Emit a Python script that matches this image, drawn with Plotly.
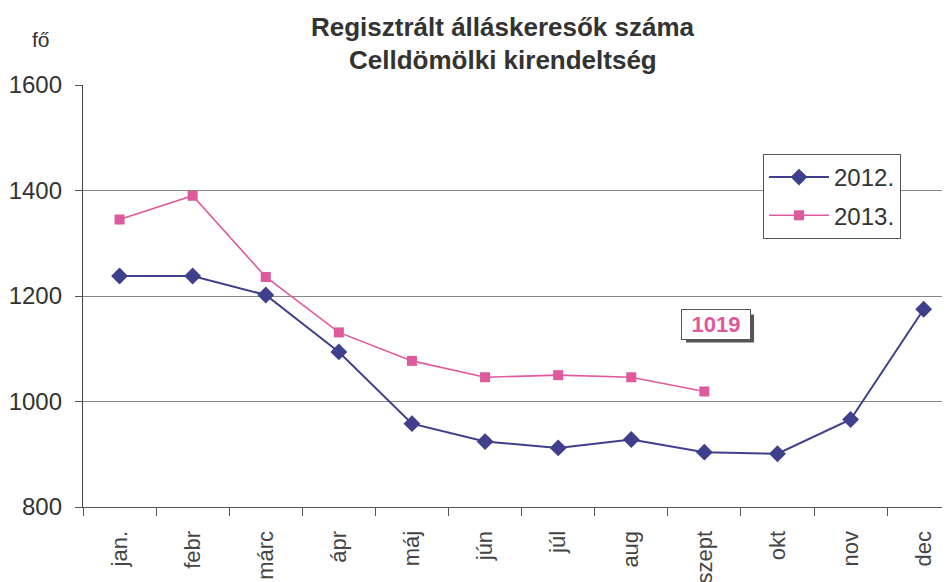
import plotly.graph_objects as go

months = ["jan.", "febr", "márc", "ápr", "máj", "jún", "júl", "aug", "szept", "okt", "nov", "dec"]
y2012 = [1238, 1238, 1202, 1094, 958, 924, 912, 928, 904, 901, 966, 1175]
months_2013 = months[:9]
y2013 = [1345, 1390, 1236, 1131, 1077, 1046, 1050, 1046, 1019]
yticks = [800, 1000, 1200, 1400, 1600]
callout_value = 1019

navy = "#3F3F8C"
pink = "#DF5A9C"
font = "Liberation Sans, Arial, sans-serif"

# page offset (browser body margin) compensation
OFF = 8
L, T, R, B = 83, 85, 950, 507   # plot area in the screenshot
PW, PH = R - L, B - T

def px(xpix):
    return (xpix - L) / PW

def py(ypix):
    return (B - ypix) / PH

fig = go.Figure()
fig.add_trace(go.Scatter(
    x=months, y=y2012, name="2012.", mode="lines+markers",
    line=dict(color=navy, width=2),
    marker=dict(symbol="diamond", size=13, color=navy),
    legendgroup="a",
))
fig.add_trace(go.Scatter(
    x=months_2013, y=y2013, name="2013.", mode="lines+markers",
    line=dict(color=pink, width=1.6),
    marker=dict(symbol="square", size=10, color=pink),
    legendgroup="b",
))

fig.update_layout(
    width=950 - OFF, height=582 - OFF,
    margin=dict(l=L - OFF, r=0, t=T - OFF, b=582 - B, autoexpand=False),
    paper_bgcolor="white", plot_bgcolor="white",
    font=dict(family=font, color="#333333"),
    showlegend=True,
    legend=dict(
        x=px(763), y=py(154), xanchor="left", yanchor="top",
        bgcolor="white", bordercolor="#555555", borderwidth=1,
        font=dict(size=24, color="#333333"),
        traceorder="grouped", tracegroupgap=4,
        itemwidth=60,
    ),
)

fig.update_xaxes(
    type="category", categoryorder="array", categoryarray=months,
    range=[-0.5, 11.36],
    tickson="boundaries", ticks="outside", ticklen=8, tickcolor="#555555",
    tickangle=-90, tickfont=dict(size=22, color="#444444"),
    ticklabelstandoff=14, automargin=False,
    showline=True, linecolor="#555555", linewidth=1.2,
    showgrid=False, zeroline=False,
)
fig.update_yaxes(
    range=[800, 1600], tickvals=yticks,
    ticks="outside", ticklen=7, tickcolor="#555555",
    tickfont=dict(size=24, color="#333333"),
    ticklabelstandoff=8, automargin=False,
    showline=True, linecolor="#444444", linewidth=1.3,
    showgrid=True, gridcolor="#888888", gridwidth=1,
    zeroline=False,
)

fig.add_annotation(xref="paper", yref="paper", x=px(503), y=py(27),
                   text="<b>Regisztrált álláskeresők száma</b>", showarrow=False,
                   font=dict(size=26, color="#333333"), xanchor="center", yanchor="middle")
fig.add_annotation(xref="paper", yref="paper", x=px(503), y=py(60),
                   text="<b>Celldömölki kirendeltség</b>", showarrow=False,
                   font=dict(size=26, color="#333333"), xanchor="center", yanchor="middle")
fig.add_annotation(xref="paper", yref="paper", x=px(41), y=py(40),
                   text="fő", showarrow=False,
                   font=dict(size=21, color="#333333"), xanchor="center", yanchor="middle")

# callout box with shadow
cx, cy = 8.16, 1146
fig.add_shape(type="rect", xref="x", yref="y", xsizemode="pixel", ysizemode="pixel",
              xanchor=cx, yanchor=cy, x0=-30, x1=38, y0=-18, y1=10,
              fillcolor="#555555", line=dict(width=0), layer="above")
fig.add_annotation(
    x=cx, y=cy, xref="x", yref="y", text=f"<b>{callout_value}</b>",
    showarrow=False, width=66, height=27, bgcolor="white", bordercolor="#555555", borderwidth=1,
    font=dict(size=22, color=pink), align="center", valign="middle",
)

fig.write_html("out.html")
